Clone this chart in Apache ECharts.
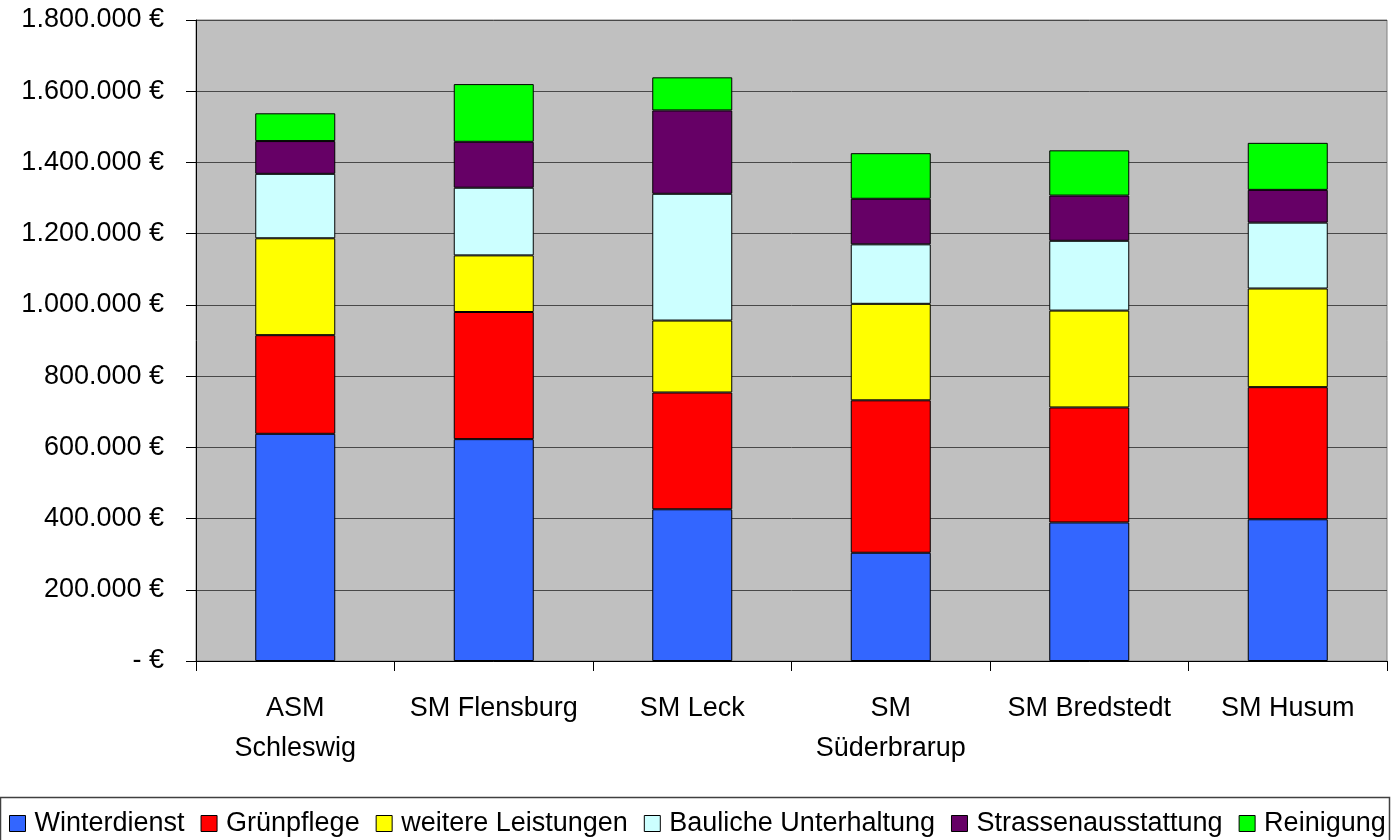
<!DOCTYPE html>
<html>
<head>
<meta charset="utf-8">
<script src="https://cdn.jsdelivr.net/npm/echarts@6/dist/echarts.min.js"></script>
<style>
html,body{margin:0;padding:0;background:#fff;}
#c{width:1396px;height:840px;}
</style>
</head>
<body>
<div id="c"></div>
<script>
const categories = ['ASM\nSchleswig', 'SM Flensburg', 'SM Leck', 'SM\nSüderbrarup', 'SM Bredstedt', 'SM Husum'];
const winterdienst = [638000, 623000, 426000, 304000, 389000, 398000];
const gruenpflege = [277000, 357000, 328000, 428000, 323000, 371000];
const weitereLeistungen = [272000, 159000, 202000, 271000, 272000, 277000];
const baulicheUnterhaltung = [181000, 190000, 356000, 167000, 196000, 185000];
const strassenausstattung = [92000, 129000, 234000, 128000, 127000, 92000];
const reinigung = [78000, 162000, 93000, 128000, 127000, 132000];
const yTicks = [0, 200000, 400000, 600000, 800000, 1000000, 1200000, 1400000, 1600000, 1800000];

const seriesDefs = [
  ['Winterdienst', winterdienst, '#3366FF'],
  ['Grünpflege', gruenpflege, '#FF0000'],
  ['weitere Leistungen', weitereLeistungen, '#FFFF00'],
  ['Bauliche Unterhaltung', baulicheUnterhaltung, '#CCFFFF'],
  ['Strassenausstattung', strassenausstattung, '#660066'],
  ['Reinigung', reinigung, '#00FF00']
];

const FONT = "'Liberation Sans', Arial, sans-serif";
const FS = 27;

function fmt(v) {
  if (v === 0) return '- €';
  return String(v).replace(/\B(?=(\d{3})+(?!\d))/g, '.') + ' €';
}

const chart = echarts.init(document.getElementById('c'), null, {renderer: 'canvas'});
chart.setOption({
  animation: false,
  backgroundColor: '#ffffff',
  textStyle: {fontFamily: FONT},
  grid: {
    left: 196, right: 9, top: 20, bottom: 179,
    containLabel: false, outerBoundsMode: 'none',
    show: true, backgroundColor: '#C0C0C0', borderColor: '#808080', borderWidth: 1
  },
  legend: {
    left: 4, top: 805, width: 1392,
    icon: 'rect', itemWidth: 16, itemHeight: 16, itemGap: 16,
    textStyle: {fontFamily: FONT, fontSize: FS, color: '#000', padding: [0, 0, 0, 4]},
    itemStyle: {borderColor: '#000', borderWidth: 1},
    data: seriesDefs.map(s => s[0])
  },
  graphic: [{
    type: 'rect', silent: true,
    shape: {x: 0.5, y: 797.5, width: 1389, height: 50},
    style: {fill: 'none', stroke: '#404040', lineWidth: 1.5}
  }],
  xAxis: {
    type: 'category',
    data: categories,
    axisLine: {lineStyle: {color: '#000', width: 1}},
    axisTick: {show: true, length: 10, lineStyle: {color: '#000'}},
    axisLabel: {
      fontFamily: FONT, fontSize: FS, color: '#000', lineHeight: 40, margin: 28, interval: 0
    },
    splitLine: {show: false}
  },
  yAxis: {
    type: 'value',
    min: 0, max: 1800000, interval: 200000,
    axisLine: {show: true, lineStyle: {color: '#000', width: 1}},
    axisTick: {show: true, length: 10, lineStyle: {color: '#000'}},
    axisLabel: {
      fontFamily: FONT, fontSize: FS, color: '#000', margin: 32,
      formatter: v => fmt(v),
      customValues: yTicks
    },
    splitLine: {show: true, lineStyle: {color: '#484848', width: 1}}
  },
  series: seriesDefs.map(([name, data, color]) => ({
    name: name,
    type: 'bar',
    stack: 'total',
    data: data,
    barWidth: 80,
    itemStyle: {color: color, borderColor: '#000', borderWidth: 1}
  }))
});
</script>
</body>
</html>
